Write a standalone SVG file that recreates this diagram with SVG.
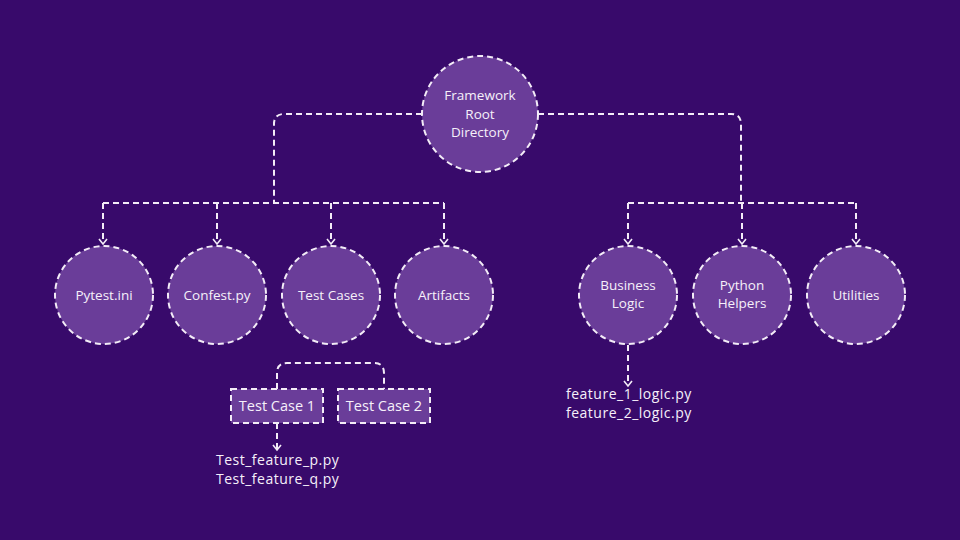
<svg xmlns="http://www.w3.org/2000/svg" width="960" height="540" viewBox="0 0 960 540">
<defs>
<style>
.n{fill:#6a3d99;stroke:#f3ecf7;stroke-width:2;stroke-dasharray:6 4}
.c{fill:none;stroke:#f3ecf7;stroke-width:2;stroke-dasharray:6 4}
text{font-family:"Open Sans",Inter,sans-serif;font-size:13.5px;fill:#f6f0fa}
.m{text-anchor:middle}
.f{font-size:14px;letter-spacing:0.5px}
</style>
<marker id="a" viewBox="0 0 10 10" refX="8" refY="5" markerWidth="10" markerHeight="10" markerUnits="userSpaceOnUse" orient="auto">
<path d="M3,1 L8,5 L3,9" fill="none" stroke="#f3ecf7" stroke-width="1.6"/>
</marker>
</defs>
<rect width="960" height="540" fill="#380a6b"/>
<g id="connectors">
<path class="c" d="M422,114 H284 Q274,114 274,124 V203"/>
<path class="c" d="M103,203 H444"/>
<path class="c" d="M103,203 V244" marker-end="url(#a)"/>
<path class="c" d="M217,203 V244" marker-end="url(#a)"/>
<path class="c" d="M331,203 V244" marker-end="url(#a)"/>
<path class="c" d="M444,203 V244" marker-end="url(#a)"/>
<path class="c" d="M538,114 H731 Q741,114 741,124 V203"/>
<path class="c" d="M628,203 H856"/>
<path class="c" d="M628,203 V244" marker-end="url(#a)"/>
<path class="c" d="M742,203 V244" marker-end="url(#a)"/>
<path class="c" d="M856,203 V244" marker-end="url(#a)"/>
<path class="c" d="M277,389 V373 Q277,363 287,363 H374 Q384,363 384,373 V389"/>
<path class="c" d="M277,423 V450" marker-end="url(#a)"/>
<path class="c" d="M628,345 V386" marker-end="url(#a)"/>
</g>
<g id="root"><circle class="n" cx="480" cy="114" r="58"/><text class="m" x="480" y="100">Framework</text><text class="m" x="480" y="119">Root</text><text class="m" x="480" y="137">Directory</text></g>
<g id="pytest"><circle class="n" cx="104" cy="295" r="49"/><text class="m" x="104" y="300">Pytest.ini</text></g>
<g id="confest"><circle class="n" cx="217" cy="295" r="49"/><text class="m" x="217" y="300">Confest.py</text></g>
<g id="testcases"><circle class="n" cx="331" cy="295" r="49"/><text class="m" x="331" y="300">Test Cases</text></g>
<g id="artifacts"><circle class="n" cx="444" cy="295" r="49"/><text class="m" x="444" y="300">Artifacts</text></g>
<g id="business"><circle class="n" cx="628" cy="295" r="49"/><text class="m" x="628" y="290">Business</text><text class="m" x="628" y="308">Logic</text></g>
<g id="python"><circle class="n" cx="742" cy="295" r="49"/><text class="m" x="742" y="290">Python</text><text class="m" x="742" y="308">Helpers</text></g>
<g id="utilities"><circle class="n" cx="856" cy="295" r="49"/><text class="m" x="856" y="300">Utilities</text></g>
<g id="tc1"><rect class="n" x="231" y="389" width="92" height="34"/><text class="m" x="277" y="411" style="font-size:14.5px">Test Case 1</text></g>
<g id="tc2"><rect class="n" x="338" y="389" width="92" height="34"/><text class="m" x="384" y="411" style="font-size:14.5px">Test Case 2</text></g>
<g id="files1"><text class="f" x="216" y="465">Test_feature_p.py</text><text class="f" x="216" y="484">Test_feature_q.py</text></g>
<g id="files2"><text class="f" x="566" y="399">feature_1_logic.py</text><text class="f" x="566" y="418">feature_2_logic.py</text></g>
</svg>
